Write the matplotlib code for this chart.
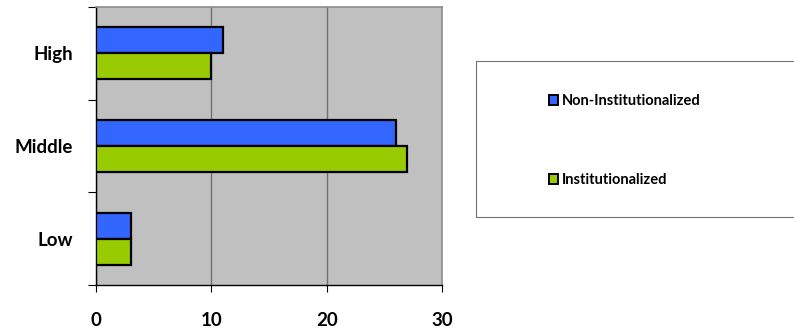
import numpy as np
import matplotlib
matplotlib.use("Agg")
from matplotlib import pyplot as plt
from matplotlib.patches import Patch, Rectangle

categories = ["Low", "Middle", "High"]
non_inst = [3, 26, 11]
inst = [3, 27, 10]
series_names = ["Non-Institutionalized", "Institutionalized"]
xticks = [0, 10, 20, 30]

blue = "#3366FF"
green = "#99CC00"

plt.rcParams["font.family"] = ["Lato", "DejaVu Sans"]
plt.rcParams["font.weight"] = "bold"

fig = plt.figure(figsize=(7.94, 3.30), dpi=100)
ax = fig.add_axes([0.1209, 0.1364, 0.4358, 0.8424])
ax.set_facecolor("#C0C0C0")

y = np.arange(len(categories))
h = 0.28
ax.barh(y + h / 2, non_inst, height=h, color=blue, edgecolor="black", linewidth=1.6, zorder=3)
ax.barh(y - h / 2, inst, height=h, color=green, edgecolor="black", linewidth=1.6, zorder=3)

ax.set_xlim(0, 30)
ax.set_ylim(-0.5, len(categories) - 0.5)
ax.set_xticks(xticks)
ax.set_xticklabels([str(t) for t in xticks], fontsize=13.5, fontweight="bold")
ax.set_yticks(y)
ax.set_yticklabels(categories, fontsize=13.5, fontweight="bold")
ax.set_yticks(np.arange(len(categories) + 1) - 0.5, minor=True)
ax.tick_params(axis="y", which="major", length=0, pad=16.5)
ax.tick_params(axis="y", which="minor", length=6, width=0.8, direction="out")
ax.tick_params(axis="x", length=5, width=0.8, direction="out", pad=14.5)
ax.grid(axis="x", color="#707070", linewidth=1, zorder=1)

for s in ["top", "right"]:
    ax.spines[s].set_color("#8C8C8C")
    ax.spines[s].set_linewidth(1.2)
for s in ["left", "bottom"]:
    ax.spines[s].set_color("black")
    ax.spines[s].set_linewidth(1)

fig.patches.append(Rectangle((0.5995, 0.3424), 0.41, 0.4728, transform=fig.transFigure,
                             facecolor="white", edgecolor="#707070", linewidth=0.8))
handles = [Patch(facecolor=blue, edgecolor="black", linewidth=1.4),
           Patch(facecolor=green, edgecolor="black", linewidth=1.4)]
fig.legend(handles, series_names, loc="upper left", bbox_to_anchor=(0.682, 0.737),
           frameon=False, handlelength=0.62, handleheight=0.62, handletextpad=0.25,
           labelspacing=4.45, borderpad=0, prop={"size": 10.5, "weight": "bold"})

fig.savefig("out.png", dpi=100)
